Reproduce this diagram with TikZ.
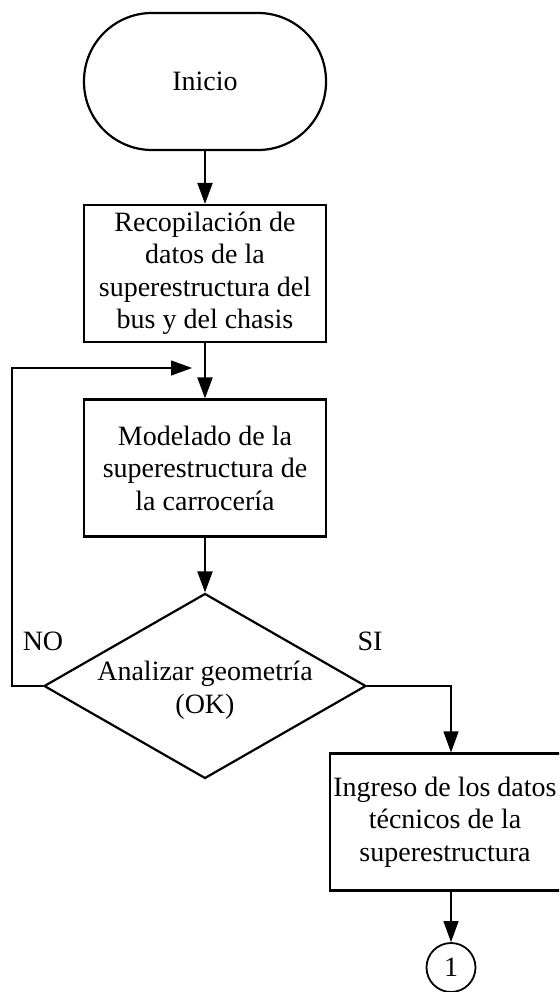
\documentclass[tikz,border=0pt]{standalone}
\usepackage{fontspec}
\setmainfont{Liberation Serif}
\usetikzlibrary{arrows.meta,shapes.geometric}
\begin{document}
\begin{tikzpicture}[x=1pt,y=1pt,
  every node/.style={font=\fontsize{28}{32.5}\selectfont, align=center, inner sep=0pt},
  term/.style={draw, line width=2.2pt, minimum width=242pt, minimum height=137pt, rounded corners=68pt},
  proc/.style={draw, line width=2.2pt, minimum width=242pt, minimum height=137pt},
  dia/.style={draw, diamond, line width=2.2pt, minimum width=322pt, minimum height=185pt},
  conn/.style={draw, circle, line width=1.8pt, minimum size=49pt},
  thickarrow/.style={line width=2.2pt, -{Triangle[length=21pt,width=15pt]}},
  thinarrow/.style={line width=1.2pt, -{Triangle[length=21pt,width=15pt]}}
]
\clip (0,0) rectangle (559,-992);
\useasboundingbox (0,0) rectangle (559,-992);
\node[term] (start) at (205,-81.5) {Inicio};
\node[proc] (b1) at (205,-273.5) {Recopilación de\\datos de la\\superestructura del\\bus y del chasis};
\node[proc] (b2) at (205,-468) {Modelado de la\\superestructura de\\la carrocería};
\node[dia] (dec) at (205,-686) {};
\node (dectext) at (205,-690) {Analizar geometría\\(OK)};
\node[proc] (b3) at (451,-822) {};
\node (b3text) at (445,-822) {Ingreso de los datos\\técnicos de la\\superestructura};
\node[conn] (c1) at (451,-967.5) {1};
\node (no) at (43,-641) {NO};
\node (si) at (370,-641) {SI};
\coordinate (mtip) at (192,-368);
\coordinate (lc) at (12,-368);
\draw[thickarrow] (start) -- (b1);
\draw[thickarrow] (b1) -- (b2);
\draw[thickarrow] (b2) -- (dec);
\draw[thinarrow] (dec.west) -| (lc) -- (mtip);
\draw[thinarrow] (dec.east) -| (b3);
\draw[thinarrow] (b3) -- (c1);
\end{tikzpicture}
\end{document}
